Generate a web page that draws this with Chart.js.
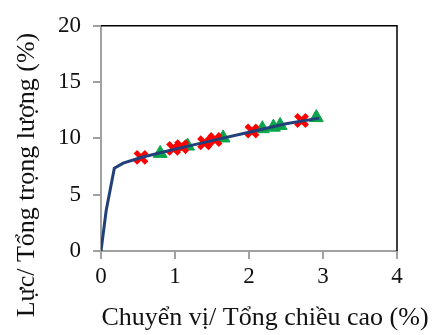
<!DOCTYPE html>
<html>
<head>
<meta charset="utf-8">
<script src="https://cdn.jsdelivr.net/npm/chart.js@4.4.1/dist/chart.umd.min.js"></script>
<style>
  html, body { margin: 0; padding: 0; background: #fff; }
  #wrap { width: 433px; height: 335px; }
</style>
</head>
<body>
<div id="wrap"><canvas id="chart" width="433" height="335"></canvas></div>
<script>
// pushover curve and the two marker series (% drift, % of total weight)
const curveX = [0, 0.07, 0.18, 0.30, 0.54, 1.00, 1.50, 2.00, 2.50, 2.95];
const curveY = [0, 3.6, 7.35, 7.8, 8.3, 9.05, 9.8, 10.55, 11.3, 11.8];

const crossX = [0.54, 0.98, 1.09, 1.40, 1.54, 2.04, 2.71];
const crossY = [8.32, 9.11, 9.26, 9.61, 9.90, 10.66, 11.59];

const triX = [0.80, 1.17, 1.65, 2.18, 2.33, 2.42, 2.91];
const triY = [8.67, 9.32, 10.04, 10.86, 11.0, 11.15, 11.85];

const xTicks = [0, 1, 2, 3, 4];
const yTicks = [0, 5, 10, 15, 20];

const xTitle = 'Chuyển vị/ Tổng chiều cao (%)';
const yTitle = 'Lực/ Tổng trọng lượng (%)';

const toPoints = (xs, ys) => xs.map((x, i) => ({ x, y: ys[i] }));

const serif = '"Liberation Serif", "Times New Roman", serif';

// frame on the top/right edges plus the two axis titles
const framePlugin = {
  id: 'frame',
  beforeDatasetsDraw(chart) {
    const { ctx, chartArea: a } = chart;
    ctx.save();
    ctx.strokeStyle = '#000';
    ctx.lineWidth = 1.5;
    ctx.beginPath();
    ctx.moveTo(a.left, a.top);
    ctx.lineTo(a.right, a.top);
    ctx.lineTo(a.right, a.bottom);
    ctx.stroke();
    ctx.restore();
  },
  afterDraw(chart) {
    const { ctx } = chart;
    ctx.save();
    ctx.fillStyle = '#111';
    ctx.font = '26px ' + serif;
    ctx.textAlign = 'center';
    ctx.textBaseline = 'middle';
    ctx.fillText(xTitle, 265, 318);
    ctx.translate(27, 175);
    ctx.rotate(-Math.PI / 2);
    ctx.fillText(yTitle, 0, 0);
    ctx.restore();
  }
};

new Chart(document.getElementById('chart'), {
  type: 'scatter',
  data: {
    datasets: [
      {
        data: toPoints(curveX, curveY),
        showLine: true,
        borderColor: '#213f78',
        borderWidth: 3,
        pointRadius: 0,
        tension: 0
      },
      {
        data: toPoints(crossX, crossY),
        pointStyle: 'crossRot',
        pointRadius: 8,
        borderColor: '#ff0000',
        backgroundColor: '#ff0000',
        borderWidth: 5
      },
      {
        data: toPoints(triX, triY),
        pointStyle: 'triangle',
        pointRadius: 8,
        backgroundColor: '#0aa54a',
        borderColor: '#0aa54a',
        borderWidth: 1
      }
    ]
  },
  options: {
    responsive: false,
    animation: false,
    layout: { padding: { top: 22, right: 36, left: 0, bottom: 0 } },
    plugins: {
      legend: { display: false },
      tooltip: { enabled: false }
    },
    scales: {
      x: {
        type: 'linear',
        min: 0,
        max: 4,
        afterBuildTicks: (s) => { s.ticks = xTicks.map(v => ({ value: v })); },
        afterFit: (s) => { s.height = 84; },
        border: { color: '#a0a0a0', width: 2 },
        grid: { drawOnChartArea: false, drawTicks: true, tickLength: 8, color: '#a0a0a0', lineWidth: 2 },
        ticks: { color: '#111', padding: 4, maxRotation: 0, font: { family: serif, size: 23 } }
      },
      y: {
        type: 'linear',
        min: 0,
        max: 20,
        afterBuildTicks: (s) => { s.ticks = yTicks.map(v => ({ value: v })); },
        afterFit: (s) => { s.width = 101; },
        border: { color: '#a0a0a0', width: 2 },
        grid: { drawOnChartArea: false, drawTicks: true, tickLength: 8, color: '#a0a0a0', lineWidth: 2 },
        ticks: { color: '#111', padding: 12, font: { family: serif, size: 23 } }
      }
    }
  },
  plugins: [framePlugin]
});
</script>
</body>
</html>
